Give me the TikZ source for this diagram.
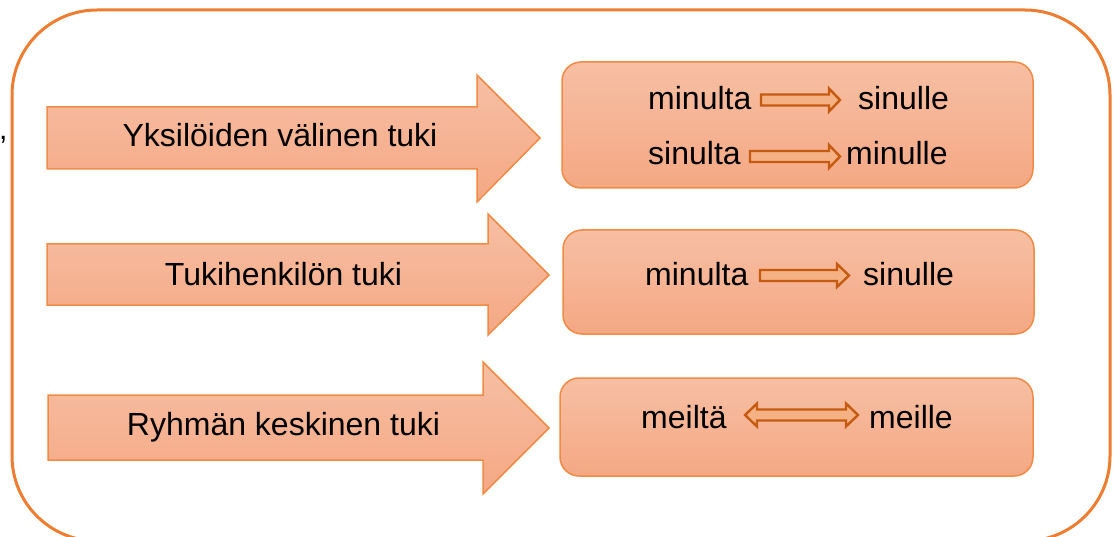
\documentclass[tikz,border=0pt]{standalone}
\usepackage{fontspec}
\setmainfont{Liberation Sans}
\definecolor{frameorange}{HTML}{ED7D31}
\definecolor{edgeorange}{HTML}{F08A45}
\definecolor{shadetop}{HTML}{F7BFA3}
\definecolor{shadebot}{HTML}{F4A884}
\definecolor{darkorange}{HTML}{C55A11}
\definecolor{lightorange}{HTML}{F4B183}
\tikzset{
  outerframe/.style={draw=frameorange, line width=3pt, rounded corners=85pt},
  bigarrow/.style={draw=edgeorange, line width=1.5pt, line join=miter, top color=shadetop, bottom color=shadebot},
  infobox/.style={draw=edgeorange, line width=1.5pt, rounded corners=19pt, top color=shadetop, bottom color=shadebot, inner sep=0pt},
  lbl/.style={inner sep=0pt, font=\fontsize{32pt}{38pt}\selectfont, text=black},
  smallarrow/.style={draw=darkorange, fill=lightorange, line width=2.4pt, line join=miter}
}
% block arrow: tail x, shaft right x, tip x, shaft top/bottom, head top/bottom, tip y
\newcommand{\blockarrow}[8]{%
  \path[bigarrow] (#1,#4) -- (#2,#4) -- (#2,#6) -- (#3,#8) -- (#2,#7) -- (#2,#5) -- (#1,#5) -- cycle;}
% small hollow arrow: tail x, head base x, tip x, centre y
\newcommand{\thinarrow}[4]{%
  \path[smallarrow] (#1,#4-5.5) -- (#2,#4-5.5) -- (#2,#4-11.5) -- (#3,#4) -- (#2,#4+11.5) -- (#2,#4+5.5) -- (#1,#4+5.5) -- cycle;}
\begin{document}
\begin{tikzpicture}[x=1pt,y=-1pt]
\useasboundingbox (0,0) rectangle (1113,537);
\clip (0,0) rectangle (1113,537);

% outer frame (its lower edge runs past the page)
\draw[outerframe] (12,10) rectangle (1110,541);

\node[lbl, anchor=base west, font=\fontsize{30pt}{36pt}\selectfont] (comma) at (-1,140) {,};

% the three block arrows
\blockarrow{47}{477}{540}{107}{169}{75}{202}{138}
\blockarrow{47}{488}{549}{244}{305}{214}{335}{275}
\blockarrow{48}{483}{549}{395}{460}{362}{494}{428}

\node[lbl, anchor=base] (l1) at (280,147) {Yksilöiden välinen tuki};
\node[lbl, anchor=base] (l2) at (283.5,286) {Tukihenkilön tuki};
\node[lbl, anchor=base] (l3) at (283.5,435) {Ryhmän keskinen tuki};

% boxes on the right
\node[infobox, minimum width=471pt, minimum height=126pt] (b1) at (797.5,125) {};
\node[infobox, minimum width=471pt, minimum height=104pt] (b2) at (798.5,282) {};
\node[infobox, minimum width=473pt, minimum height=98pt] (b3) at (796.5,427) {};

% first box
\node[lbl, anchor=base west] (w11) at (648,110) {minulta};
\node[lbl, anchor=base west] (w12) at (858,110) {sinulle};
\thinarrow{761}{829}{840}{100}
\node[lbl, anchor=base west] (w21) at (648,165) {sinulta};
\node[lbl, anchor=base west] (w22) at (846,165) {minulle};
\thinarrow{750}{829}{840}{156.5}

% second box
\node[lbl, anchor=base west] (w31) at (645,285) {minulta};
\node[lbl, anchor=base west] (w32) at (863,285) {sinulle};
\thinarrow{760}{837}{849}{275.5}

% third box
\node[lbl, anchor=base west] (w41) at (641,428) {meiltä};
\node[lbl, anchor=base west] (w42) at (869,428) {meille};
\path[smallarrow] (745,415) -- (757,403.5) -- (757,409.5) -- (846,409.5) -- (846,403.5) -- (858,415)
  -- (846,426.5) -- (846,420.5) -- (757,420.5) -- (757,426.5) -- cycle;
\end{tikzpicture}
\end{document}
